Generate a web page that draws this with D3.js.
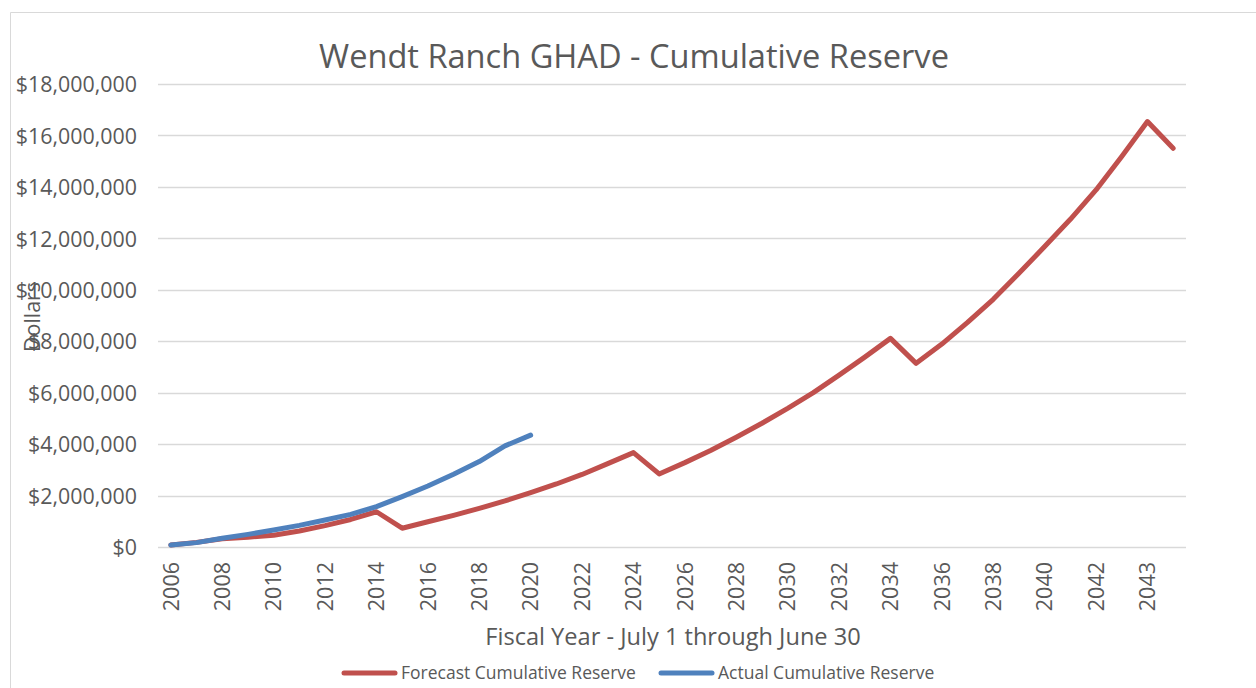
<!DOCTYPE html>
<html>
<head>
<meta charset="utf-8">
<script src="https://cdn.jsdelivr.net/npm/d3@7"></script>
<style>
  body { margin: 0; background: #fff; }
  svg text { font-family: "Open Sans", sans-serif; fill: #595959; }
</style>
</head>
<body>
<div id="chart"></div>
<script>
// fiscal year categories, as they appear on the sheet (last label reads 2043)
var years = ["2006", "2007", "2008", "2009", "2010", "2011", "2012", "2013", "2014", "2015",
             "2016", "2017", "2018", "2019", "2020", "2021", "2022", "2023", "2024", "2025",
             "2026", "2027", "2028", "2029", "2030", "2031", "2032", "2033", "2034", "2035",
             "2036", "2037", "2038", "2039", "2040", "2041", "2042", "2043", "2043", "2044"];

// dollars
var forecast = [80000, 180000, 320000, 380000, 460000, 620000, 830000, 1070000, 1370000, 730000,
                980000, 1230000, 1500000, 1790000, 2110000, 2450000, 2820000, 3240000, 3670000, 2840000,
                3280000, 3750000, 4270000, 4810000, 5390000, 6000000, 6680000, 7380000, 8110000, 7140000,
                7890000, 8730000, 9630000, 10640000, 11680000, 12740000, 13880000, 15180000, 16540000, 15500000];

var actual = [80000, 170000, 340000, 490000, 660000, 840000, 1050000, 1270000, 1570000, 1960000,
              2370000, 2830000, 3320000, 3930000, 4350000];

var yTicks = [0, 2e6, 4e6, 6e6, 8e6, 10e6, 12e6, 14e6, 16e6, 18e6];

var width = 1256,
    height = 688;

var svg = d3.select("#chart").append("svg")
    .attr("width", width)
    .attr("height", height);

// chart border
svg.append("path")
    .attr("d", "M10.5,688 V12.5 H1256")
    .attr("fill", "none")
    .attr("stroke", "#d9d9d9")
    .attr("stroke-width", 1);

var xScale = d3.scaleBand()
    .domain(d3.range(years.length))
    .range([158, 1186]);

var xMid = function(i) { return xScale(i) + xScale.bandwidth() / 2; };

var yScale = d3.scaleLinear()
    .domain([0, 18e6])
    .range([547, 84]);

// gridlines
svg.append("g")
    .selectAll("line")
    .data(yTicks)
    .enter()
    .append("line")
        .attr("x1", 158)
        .attr("x2", 1186)
        .attr("y1", function(d) { return Math.round(yScale(d)) + 0.5; })
        .attr("y2", function(d) { return Math.round(yScale(d)) + 0.5; })
        .attr("stroke", "#d9d9d9")
        .attr("stroke-width", 1.3);

// y axis labels
var yAxis = d3.axisLeft(yScale)
    .tickValues(yTicks)
    .tickFormat(d3.format("$,.0f"))
    .tickSize(0)
    .tickPadding(0);

svg.append("g")
    .attr("transform", "translate(137,0)")
    .call(yAxis)
    .call(function(g) { g.select(".domain").remove(); })
    .selectAll("text")
        .attr("font-size", 21.4)
        .attr("font-family", "Open Sans")
        .attr("fill", "#595959")
        .attr("dy", "0.36em");

// x axis labels (every second category)
var xAxis = d3.axisBottom(xScale)
    .tickValues(d3.range(0, years.length, 2))
    .tickFormat(function(i) { return years[i]; })
    .tickSize(0)
    .tickPadding(0);

svg.append("g")
    .attr("transform", "translate(0,547)")
    .call(xAxis)
    .call(function(g) { g.select(".domain").remove(); })
    .selectAll("text")
        .attr("font-size", 21.5)
        .attr("font-family", "Open Sans")
        .attr("fill", "#595959")
        .attr("text-anchor", "end")
        .attr("transform", "translate(0,15) rotate(-90)")
        .attr("x", 0)
        .attr("y", 0)
        .attr("dy", "0.36em");

// lines
var line = d3.line()
    .x(function(d, i) { return xMid(i); })
    .y(function(d) { return yScale(d); });

svg.append("path")
    .datum(forecast)
    .attr("d", line)
    .attr("fill", "none")
    .attr("stroke", "#c0504d")
    .attr("stroke-width", 5)
    .attr("stroke-linejoin", "round")
    .attr("stroke-linecap", "round");

svg.append("path")
    .datum(actual)
    .attr("d", line)
    .attr("fill", "none")
    .attr("stroke", "#4f81bd")
    .attr("stroke-width", 5)
    .attr("stroke-linejoin", "round")
    .attr("stroke-linecap", "round");

// title
svg.append("text")
    .attr("x", 634)
    .attr("y", 68)
    .attr("text-anchor", "middle")
    .attr("font-size", 32.6)
    .text("Wendt Ranch GHAD - Cumulative Reserve");

// axis titles
svg.append("text")
    .attr("x", 673)
    .attr("y", 645)
    .attr("text-anchor", "middle")
    .attr("font-size", 23.6)
    .text("Fiscal Year - July 1 through June 30");

svg.append("text")
    .attr("transform", "translate(40,317) rotate(-90)")
    .attr("text-anchor", "middle")
    .attr("font-size", 21.4)
    .text("Dollars");

// legend
var legendItems = [
    { name: "Forecast Cumulative Reserve", color: "#c0504d", x: 342 },
    { name: "Actual Cumulative Reserve", color: "#4f81bd", x: 659 }
];

var legend = svg.append("g")
    .selectAll("g")
    .data(legendItems)
    .enter()
    .append("g")
        .attr("transform", function(d) { return "translate(" + d.x + ",673)"; });

legend.append("line")
    .attr("x1", 2)
    .attr("x2", 53)
    .attr("stroke", function(d) { return d.color; })
    .attr("stroke-width", 5)
    .attr("stroke-linecap", "round");

legend.append("text")
    .attr("x", 59)
    .attr("dy", "0.36em")
    .attr("font-size", 17.5)
    .text(function(d) { return d.name; });
</script>
</body>
</html>
